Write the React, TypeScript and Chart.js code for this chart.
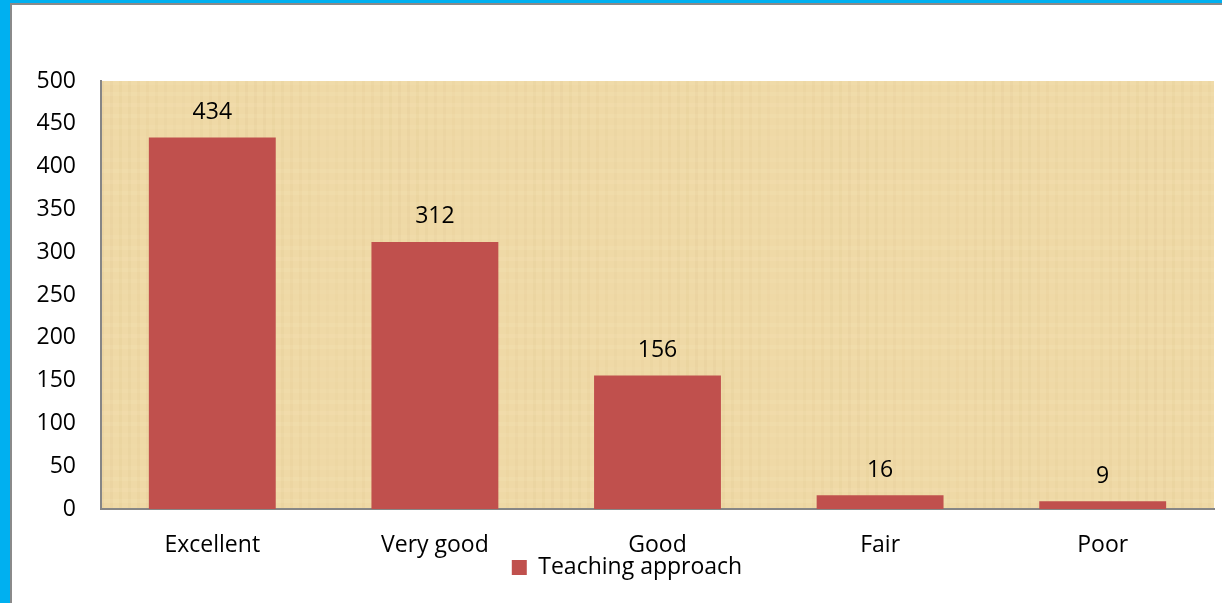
import React, { useEffect, useRef } from "react";
import { Chart, registerables } from "chart.js";

Chart.register(...registerables);

const categories: string[] = ["Excellent", "Very good", "Good", "Fair", "Poor"];
const seriesLabel = "Teaching approach";
const seriesValues: number[] = [434, 312, 156, 16, 9];
const yTicks: number[] = [0, 50, 100, 150, 200, 250, 300, 350, 400, 450, 500];

const FONT = "'Open Sans', 'Noto Sans', sans-serif";
const BAR_COLOR = "#C0504D";
const FS = 23;

const papyrusPlugin = {
  id: "papyrus",
  beforeDraw(chart: any) {
    const { ctx, chartArea } = chart;
    const { left, top, right, bottom } = chartArea;
    ctx.save();
    ctx.fillStyle = "#EFD9A6";
    ctx.fillRect(left, top, right - left, bottom - top);
    for (let x = left; x < right; x += 9) {
      const a = 0.03 + 0.06 * Math.abs(Math.sin(x * 0.37));
      ctx.fillStyle = `rgba(200,170,110,${a.toFixed(3)})`;
      ctx.fillRect(x, top, 3, bottom - top);
    }
    for (let y = top; y < bottom; y += 11) {
      const a = 0.04 + 0.08 * Math.abs(Math.sin(y * 0.53));
      ctx.fillStyle = `rgba(255,242,205,${a.toFixed(3)})`;
      ctx.fillRect(left, y, right - left, 4);
    }
    ctx.restore();
  },
};

const legendShiftPlugin = {
  id: "legendShift",
  afterLayout(chart: any) {
    const lg = chart.legend;
    if (lg) {
      lg.left += 14;
      lg.right += 14;
      lg.top -= 14;
      lg.bottom -= 14;
    }
  },
};

const valueLabelPlugin = {
  id: "valueLabels",
  afterDatasetsDraw(chart: any) {
    const { ctx } = chart;
    const meta = chart.getDatasetMeta(0);
    ctx.save();
    ctx.font = `${FS}px ${FONT}`;
    ctx.fillStyle = "#000000";
    ctx.textAlign = "center";
    ctx.textBaseline = "middle";
    meta.data.forEach((bar: any, i: number) => {
      ctx.fillText(String(seriesValues[i]), bar.x, bar.y - 25);
    });
    ctx.restore();
  },
};

export default function App() {
  const canvasRef = useRef<HTMLCanvasElement | null>(null);

  useEffect(() => {
    document.body.style.margin = "0";
    const canvas = canvasRef.current;
    if (!canvas) return;
    const chart = new Chart(canvas, {
      type: "bar",
      data: {
        labels: categories,
        datasets: [
          {
            label: seriesLabel,
            data: seriesValues,
            backgroundColor: BAR_COLOR,
            borderWidth: 0,
            categoryPercentage: 1,
            barPercentage: 0.57,
          },
        ],
      },
      options: {
        responsive: false,
        animation: false,
        maintainAspectRatio: false,
        layout: { padding: { top: 76, right: 8, left: 0, bottom: 0 } },
        plugins: {
          tooltip: { enabled: false },
          legend: {
            display: true,
            position: "bottom",
            labels: {
              font: { family: FONT, size: FS },
              color: "#000000",
              boxWidth: 15,
              boxHeight: 15,
              padding: 4,
            },
          },
        },
        scales: {
          x: {
            grid: { display: false, drawTicks: false },
            border: { display: true, color: "#868686", width: 2 },
            ticks: {
              font: { family: FONT, size: FS },
              color: "#000000",
              padding: 23,
            },
            afterFit(scale: any) {
              scale.height = 57;
            },
          },
          y: {
            min: 0,
            max: 500,
            afterBuildTicks(scale: any) {
              scale.ticks = yTicks.map((v) => ({ value: v }));
            },
            grid: { display: false, drawTicks: false },
            border: { display: true, color: "#868686", width: 2 },
            ticks: {
              font: { family: FONT, size: FS },
              color: "#000000",
              padding: 25,
            },
            afterFit(scale: any) {
              scale.width = 89;
            },
          },
        },
      },
      plugins: [papyrusPlugin, legendShiftPlugin, valueLabelPlugin],
    });
    return () => chart.destroy();
  }, []);

  return (
    <div
      style={{
        position: "relative",
        width: 1222,
        height: 603,
        background: "#00B0F0",
        overflow: "hidden",
      }}
    >
      <div
        style={{
          position: "absolute",
          left: 10,
          top: 3,
          width: 1212,
          height: 600,
          boxSizing: "border-box",
          borderLeft: "2px solid #8A8A8A",
          borderTop: "2px solid #8A8A8A",
          background: "#FFFFFF",
        }}
      >
        <canvas ref={canvasRef} width={1210} height={598} style={{ display: "block" }} />
      </div>
    </div>
  );
}
